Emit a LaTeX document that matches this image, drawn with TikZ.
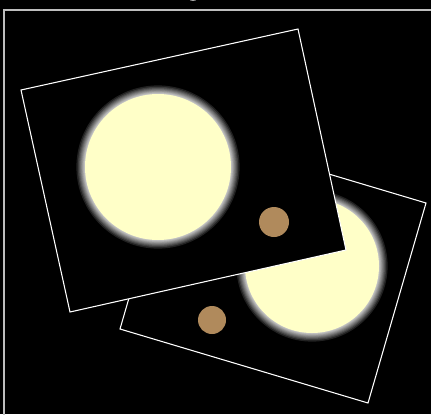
\documentclass[tikz,border=0pt]{standalone}
\tikzset{
  card/.style={draw=white, line width=0.8pt, fill=black},
  moon/.style={fill=moonyellow},
  pebble/.style={fill=pebblebrown},
  halo/.style={fill=white, opacity=0.13},
}
\definecolor{moonyellow}{RGB}{255,255,200}
\definecolor{pebblebrown}{RGB}{176,138,92}
\definecolor{framegray}{RGB}{190,190,190}
\begin{document}
\begin{tikzpicture}[x=0.75pt,y=-0.75pt]
\fill[black] (0,0) rectangle (431,414);
\useasboundingbox (0,0) rectangle (431,414);
% small clipped blip at top
\fill[gray!70] (193,-1) ellipse (4 and 2);
% frame
\draw[framegray, line width=1.1pt] (4,440) -- (4,10) -- (440,10);
% back card
\draw[card] (178,129) -- (426,203) -- (368,403) -- (120,329) -- cycle;
\foreach \d in {0.5,1,1.5,2,2.6,3.3,4.1,5,6,7.2,8.6}
  \fill[halo] (312,266) circle ({67+\d});
\fill[moon] (312,266) circle (67);
\fill[pebble] (212,320) circle (14);
% front card
\draw[card] (21,90) -- (298,29) -- (346,250) -- (70,312) -- cycle;
\foreach \d in {0.5,1,1.5,2,2.6,3.3,4.1,5,6,7.2,8.6}
  \fill[halo] (158,167) circle ({73+\d});
\fill[moon] (158,167) circle (73);
\fill[pebble] (274,222) circle (15);
\end{tikzpicture}
\end{document}
